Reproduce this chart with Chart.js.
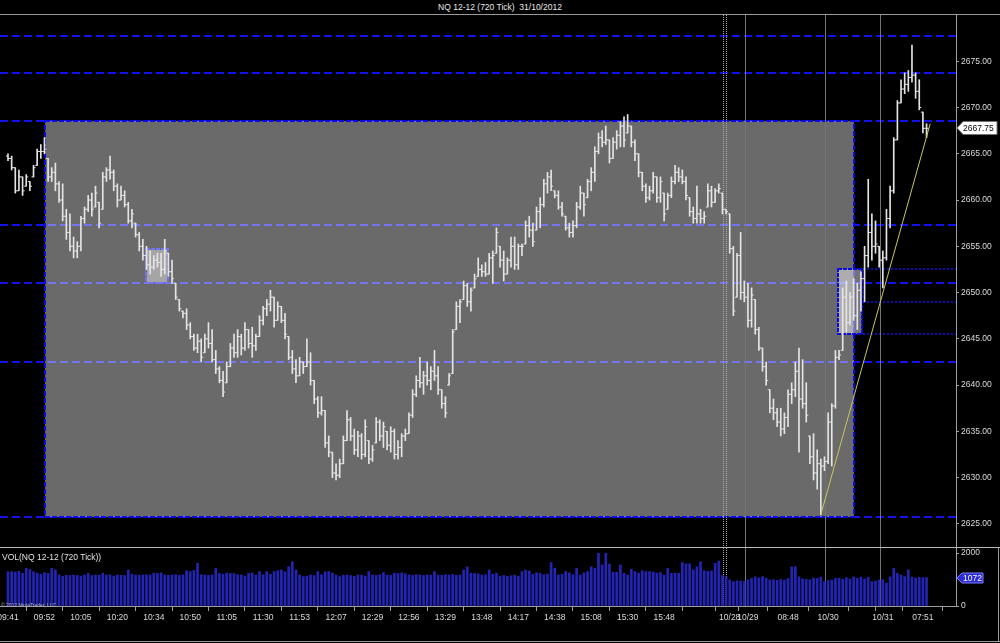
<!DOCTYPE html>
<html><head><meta charset="utf-8"><title>NQ 12-12 (720 Tick)</title>
<script src="https://cdn.jsdelivr.net/npm/chart.js@4.4.1/dist/chart.umd.min.js"></script>
<style>
html,body{margin:0;padding:0;background:#000;}
body{position:relative;width:1000px;height:643px;overflow:hidden;font-family:'Liberation Sans',Arial,sans-serif;}
#title{position:absolute;left:0;top:0;width:1000px;height:14px;line-height:14px;text-align:center;color:#e8e8e8;font-size:8.5px;white-space:pre;}
.ln{position:absolute;background:#9a9a9a;}
#pc{position:absolute;left:0;top:15px;}
#vc{position:absolute;left:0;top:548px;}
#vlab{position:absolute;left:2px;top:552px;color:#e0e0e0;font-size:8.5px;line-height:10px;}
#copy{position:absolute;left:1px;top:602px;color:#b4b4b4;font-size:5px;line-height:6px;}
</style></head><body>
<div id="title">NQ 12-12 (720 Tick)  31/10/2012</div>
<div class="ln" style="left:0;top:14px;width:1000px;height:1px"></div>
<canvas id="pc" width="1000" height="532"></canvas>
<div class="ln" style="left:0;top:547px;width:1000px;height:1px;background:#b8b8b8"></div>
<canvas id="vc" width="1000" height="93"></canvas>
<div id="vlab">VOL(NQ 12-12 (720 Tick))</div>
<div id="copy">© 2012 NinjaTrader, LLC</div>
<div class="ln" style="left:0;top:641px;width:1000px;height:1px"></div>
<div class="ln" style="left:998px;top:547px;width:1px;height:95px"></div>
<script>
// ---------------- DATA ----------------
const opens = [
2664.75,2664.5,2663.5,2661,2662.5,2661.5,2662,2662.5,2663.75,2665.25,
2665.25,2664.5,2662.5,2663,2661.75,2660,2658.25,2656.5,2655,2654.5,
2655,2658,2659,2660,2659.25,2659.75,2659,2662.5,2663.25,2663,
2661.5,2660,2660.5,2659.5,2657.75,2657.5,2656.25,2655,2654,2653,
2652.75,2653.5,2653.25,2652.5,2654.25,2652.25,2651,2649.25,2648,2647.75,
2646.5,2645.25,2644,2644.75,2643.5,2645,2644.5,2642.75,2641.75,2640.5,
2640.25,2642,2644,2643.5,2645.25,2644,2646,2644.5,2644.25,2645.25,
2647,2648.25,2648.75,2649.5,2647,2648.5,2647,2645.25,2643,2641.75,
2641,2642.5,2642,2642.5,2640.5,2638.5,2637,2637.25,2633.75,2632.75,
2630.5,2630.25,2631.5,2634,2636.25,2634.5,2633,2634.5,2632.5,2634,
2632,2633.75,2636,2634.5,2635,2633.5,2635,2632.5,2633.25,2634.5,
2634.75,2636.75,2639,2640.5,2640.25,2641,2640.5,2641.5,2641,2639.5,
2638,2640,2641.25,2646,2648.5,2649.25,2650.75,2649,2650.5,2651.75,
2652.5,2652.25,2652,2653.75,2654.25,2655,2653.5,2652,2653.5,2655,
2653,2655,2655.25,2657.25,2656.75,2656.75,2658.75,2659.5,2661.75,2662.5,
2661,2660.5,2659.25,2658.25,2657,2656.5,2657.25,2659.25,2660.75,2660.25,
2662,2663,2665.25,2666.75,2666.25,2666.5,2664.5,2666.25,2667,2668,
2667.25,2668,2666.25,2665,2663,2661.5,2660.25,2661,2662.5,2660.25,
2660.75,2659,2660.5,2662,2663,2662.5,2662,2660.25,2658.75,2658,
2658.5,2658,2659.25,2661,2659.75,2661,2660.75,2659,2658.5,2654.75,
2649.5,2654,2650,2649.5,2647,2649.25,2646,2644,2642,2639.5,
2637.5,2637,2636,2635.25,2636.5,2639,2639.5,2641.5,2638.5,2638,
2634.5,2632.25,2630.5,2631.5,2631.25,2631.75,2636,2637.75,2643,2643.75,
2649.5,2646.75,2649.5,2647.5,2650.25,2651.5,2654,2656.5,2655,2655,
2653.5,2653.75,2658,2661,2666.5,2670.5,2672,2672.5,2673.25,2673.5,
2671.75,2669.5,2667.75];
const highs = [
2665,2664.75,2663.5,2663.25,2662.5,2662.75,2662,2663.75,2665.5,2666,
2666.75,2664.5,2663.5,2664,2662,2661.75,2659,2658.5,2656,2655.5,
2658.25,2659.25,2660.5,2660.75,2661.5,2659.75,2663,2663.5,2664.75,2663.25,
2661.75,2661.5,2661,2659.75,2659,2657.5,2656.5,2655.75,2655,2654.5,
2654,2654.25,2654.25,2655.75,2654.25,2653.5,2651,2649.25,2648,2648.25,
2646.75,2645.5,2645.5,2645,2645.5,2646.75,2646,2643.75,2642,2641.5,
2642.5,2644.5,2645.5,2646,2645.5,2646.75,2646,2646.25,2645.5,2647.5,
2648.5,2649.25,2650.25,2649.5,2649,2648.5,2647.75,2645.25,2643.75,2642.75,
2643,2642.5,2645,2643.5,2640.5,2638.75,2638.75,2637.25,2634.5,2632.75,
2631.5,2632,2634.5,2637.25,2636.5,2635.25,2635,2634.75,2636.25,2634,
2633.5,2636.5,2636.25,2636,2635,2635.5,2635.25,2634,2634.75,2635.25,
2637,2639.5,2641,2643,2641.5,2642.5,2642,2643.75,2642,2639.5,
2638.75,2641.25,2646,2649,2649.25,2651.25,2651,2650.5,2652,2653.75,
2653,2653.25,2654.25,2654.5,2657,2655,2654.5,2653.75,2656,2656,
2655.25,2655.25,2657.75,2658.25,2657.5,2659.25,2660.25,2662.25,2663,2663.25,
2661,2661,2659.75,2658.25,2657.5,2657.75,2659.75,2661.5,2660.75,2662.25,
2663.5,2665.75,2667.25,2667.5,2668,2666.5,2666.75,2667.5,2668.5,2669,
2669.25,2668,2666.5,2665,2663,2661.75,2661.5,2663,2662.5,2662.5,
2660.75,2660.75,2662.5,2663.75,2663.5,2663.25,2662.5,2660.25,2659.25,2661.5,
2659,2658.75,2661.75,2661.5,2661.25,2661.75,2660.75,2659,2658.5,2655,
2654.25,2656.5,2651.25,2651,2650.5,2649.25,2646.25,2644,2642.5,2639.5,
2638.5,2637.5,2637.5,2637,2639.5,2640.25,2642.5,2644,2642.75,2640.25,
2634.5,2634.75,2633,2632,2632.25,2637,2638,2643.75,2643.75,2650.5,
2651.25,2650,2651.5,2651,2652.25,2655,2662.25,2658.5,2657.75,2655,
2654.5,2659,2661.5,2666.75,2670.75,2673,2673.75,2674,2676.75,2673.75,
2673,2669.5,2668.25];
const lows = [
2664.25,2663.25,2660.75,2661,2660.5,2661.5,2661,2662.5,2663.75,2664.5,
2665,2662,2662,2661,2659.75,2657.75,2655.75,2654.5,2653.75,2653.75,
2654.5,2657.5,2658.75,2658.25,2659.25,2657,2659,2662,2662.25,2661,
2659.25,2660,2659.25,2657.5,2657,2656,2654.5,2653.5,2652.5,2652,
2652.5,2652.75,2651.75,2652,2651.75,2651,2649.25,2648,2647.25,2646,
2645,2643.75,2643.5,2642.5,2643.5,2644,2642.5,2641.25,2640.25,2638.75,
2640.25,2642,2643,2643,2643.25,2643.75,2644,2643,2643.75,2645.25,
2646.5,2647.5,2648,2646.25,2647,2646.75,2645,2642.75,2641.25,2640.25,
2641,2641.25,2642,2640,2638,2636.5,2636.75,2633.25,2632.25,2630,
2629.75,2630,2631.5,2634,2634,2632.5,2632.25,2632,2632.25,2631.5,
2631.75,2633.75,2634,2633.25,2633,2632.75,2632,2632,2632.25,2634,
2634.75,2636.5,2638.75,2639.75,2639,2640,2639.5,2640.5,2639,2637.5,
2636.5,2640,2641.25,2646,2646.75,2649.25,2648.5,2648,2650.5,2651.75,
2651.75,2651.75,2652,2651,2654.25,2652.75,2651.25,2652,2652.75,2652.5,
2652.5,2654,2655.25,2656,2655,2656.75,2657,2659.25,2660.75,2661,
2660.25,2659,2658.25,2656.75,2656,2656,2657,2659,2658.25,2660.25,
2661,2662,2665,2665.75,2666,2664,2664.5,2665.5,2665.75,2665.75,
2667.25,2665.75,2664.25,2662.5,2661,2659.75,2660,2660.75,2659.75,2659.75,
2657.75,2659,2660.25,2661.75,2662,2661.75,2660,2658.25,2657.5,2657.5,
2657.5,2657.5,2659.25,2659.25,2659.75,2660.75,2658.5,2658.5,2654.25,2647.5,
2649.5,2649.25,2649,2646.25,2646.25,2645.5,2643.75,2641.5,2640,2637,
2636.25,2635.5,2634.5,2634.75,2635.5,2638,2638.75,2632.75,2637.5,2636,
2631.5,2629.75,2628.75,2626,2630.75,2631.5,2631.25,2637.5,2642.75,2643.75,
2645.75,2646.5,2647,2646,2648,2649,2652.75,2653.5,2654.25,2652.75,
2650.5,2653.5,2657,2660.75,2666.5,2670.5,2671.5,2671.75,2672.75,2671,
2669.75,2667.25,2666.75];
const closes = [
2664.5,2663.5,2661,2662.5,2661,2662.5,2661.5,2663.5,2665.25,2665.25,
2665.5,2662.5,2663,2661.75,2660,2658.25,2656.5,2655,2654.5,2655,
2658,2659,2660,2659,2660.75,2657.5,2662.5,2663.25,2663,2661.5,
2660,2660.5,2659.5,2657.75,2658.5,2656.25,2655,2654,2653,2652.75,
2653.5,2653.25,2652.5,2654.5,2652.25,2651.5,2649.5,2648.25,2647.75,2646.5,
2645.25,2644,2644.75,2643,2645,2644.5,2642.75,2641.75,2640.5,2639.25,
2642,2644,2643.5,2645.25,2644,2646,2644.5,2644.25,2645.25,2647,
2648.25,2648.75,2649.5,2647,2648.5,2647,2645.5,2643,2641.75,2641,
2642.5,2642,2642.5,2640.5,2638.5,2637,2637.25,2633.75,2632.75,2630.5,
2630.25,2631.5,2634,2636.25,2634.5,2633,2634.5,2632.5,2635.5,2632,
2633,2636,2634.5,2635.5,2633.5,2635,2632.5,2633.25,2634.5,2634.75,
2636.75,2639,2640.5,2640.25,2641,2640.5,2641.5,2641,2639.5,2638,
2637,2641,2645.75,2648.5,2649,2650.75,2649,2650.25,2651.5,2652.5,
2652.25,2652,2653.75,2654,2656.5,2653.5,2652,2653.5,2655,2653,
2655,2655,2657.25,2656.75,2655.5,2658.75,2659.5,2661.75,2662.5,2661.5,
2660.5,2659.25,2658.5,2657,2656.5,2657.25,2659.25,2660.75,2659.5,2662,
2663,2665.25,2666.75,2666.25,2666.5,2664.5,2666.25,2667,2668,2666.5,
2668,2666.25,2665,2663,2661.5,2660.25,2661,2662.5,2660.25,2662,
2658.5,2660.5,2662,2663,2662.5,2662,2660.5,2658.75,2658,2658.5,
2658,2658.25,2661,2659.75,2661,2661.25,2659,2658.75,2654.75,2648,
2654,2650,2649.5,2647,2649.75,2646,2644,2642,2640.5,2637.5,
2637,2636,2635.25,2636.5,2639,2639.5,2641.5,2638.5,2638,2636.75,
2632.25,2630.5,2631.5,2631.25,2631.75,2636,2637.75,2643,2643.25,2649.5,
2646.75,2649.5,2647.5,2650.25,2651.5,2654,2656.5,2655,2655.25,2653.5,
2653.75,2658,2661,2666.5,2670.5,2672,2672.5,2673.25,2673.5,2671.75,
2670,2667.75,2667.75];
const volumes = [
1290,1300,1280,1310,1230,1420,1380,1290,1240,1200,
1260,1230,1420,1360,1170,1120,1160,1150,1170,1160,
1130,1170,1230,1150,1170,1160,1240,1170,1180,1130,
1170,1160,1150,1360,1200,1170,1160,1170,1180,1170,
1240,1230,1250,1170,1160,1170,1180,1160,1170,1330,
1300,1340,1610,1180,1170,1160,1170,1420,1230,1200,
1240,1230,1220,1180,1170,1130,1230,1240,1170,1300,
1180,1300,1200,1300,1330,1360,1290,1480,1670,1360,
1170,1110,1130,1170,1150,1300,1180,1290,1300,1240,
1170,1110,1160,1170,1150,1120,1170,1160,1130,1300,
1170,1160,1180,1260,1170,1160,1240,1230,1250,1220,
1170,1160,1180,1170,1150,1170,1160,1300,1170,1160,
1180,1170,1190,1160,1170,1360,1480,1240,1230,1210,
1170,1180,1360,1200,1240,1130,1150,1120,1140,1160,
1130,1300,1350,1320,1200,1250,1230,1180,1200,1640,
1420,1170,1200,1300,1250,1180,1420,1170,1250,1300,
1480,1420,1990,1550,1990,1580,1270,1270,1550,1230,
1170,1390,1300,1240,1330,1300,1300,1280,1240,1260,
1170,1420,1230,1240,1230,1640,1590,1590,1360,1480,
1670,1330,1310,1320,1610,1700,1150,1100,980,920,
950,940,930,980,1040,1100,1060,1110,1050,980,
990,970,1000,980,1040,1480,1480,1100,1020,1000,
990,1050,1040,1090,920,960,980,1040,1050,1010,
1070,1020,1100,1040,1090,1020,1080,920,940,980,
990,860,1100,1420,1230,1170,1110,1360,1090,1060,
1080,1070,1072];
// x-axis tick labels (bar index -> text)
const tickIdx  = [0,10,20,30,40,50,60,70,80,90,100,110,120,130,140,150,160,170,180,190,198,203,214,225,236,240,251];
const tickText = ['09:41','09:52','10:05','10:20','10:34','10:50','11:05','11:30','11:53','12:07','12:29','12:56','13:29','13:48','14:17','14:38','15:08','15:30','15:48','','10/28','10/29','08:48','10/30','','10/31','07:51'];
const priceTicks = [2625,2630,2635,2640,2645,2650,2655,2660,2665,2670,2675];
const volTicks = [0,2000];
// drawing-tool levels (prices) and zones (bar index / price anchors)
const levelPrices = [2677.75,2673.75,2668.5,2657.25,2651,2642.5,2625.75];
const extLevels = [2652.5,2649,2645.5];
const sessionBreaks = [196.1,197,202.2,224.1,239.2];
const dottedBreaks = [true,true,false,false,false];
const bigZone = {from:10.15, to:232.1, lo:2625.75, hi:2668.5};
const zoneA = {from:37.9, to:43.9, lo:2651, hi:2654.75};
const zoneB = {from:227.7, to:234.3, lo:2645.5, hi:2652.5};
const trend = {i0:223, p0:2626, i1:253, p1:2668.25};

// ---------------- VIEW ----------------
const X_MIN = -2.195, X_MAX = 260.08;
const N = closes.length;
const idx = closes.map((_, i) => i);
const BAR = '#e4e4e4';
const BLUE = '#1212ee';
Chart.defaults.font.family = "'Liberation Sans', Arial, sans-serif";
Chart.defaults.font.size = 8.5;
Chart.defaults.color = '#d8d8d8';
Chart.defaults.animation = false;

function xScale(show) {
  return {
    type: 'linear', min: X_MIN, max: X_MAX, offset: false, display: show,
    grid: {drawOnChartArea: false, drawTicks: true, tickLength: 5, color: '#a0a0a0'},
    border: {color: '#a0a0a0'},
    ticks: {autoSkip: false, maxRotation: 0, minRotation: 0, padding: 2, color: '#dcdcdc',
            callback: (v, i) => tickText[i] ?? ''},
    afterBuildTicks: s => { s.ticks = tickIdx.map(v => ({value: v})); },
    afterFit: s => { s.paddingLeft = 0; s.paddingRight = 0; if (show) s.height = 35; }
  };
}
function drawBreaks(chart) {
  const {ctx, chartArea: a, scales: {x}} = chart;
  ctx.save();
  ctx.lineWidth = 1;
  sessionBreaks.forEach((b, k) => {
    const px = Math.round(x.getPixelForValue(b)) + 0.5;
    ctx.strokeStyle = dottedBreaks[k] ? '#a8a8a8' : '#747474';
    ctx.setLineDash(dottedBreaks[k] ? [1, 1] : []);
    ctx.beginPath(); ctx.moveTo(px, a.top); ctx.lineTo(px, a.bottom); ctx.stroke();
  });
  ctx.restore();
}

const priceAnno = {
  id: 'priceAnno',
  beforeDatasetsDraw(chart) {
    const {ctx, chartArea: a, scales: {x, y}} = chart;
    const X = v => x.getPixelForValue(v), Y = v => y.getPixelForValue(v);
    const box = z => [Math.round(X(z.from)), Math.round(Y(z.hi)), Math.round(X(z.to)) - Math.round(X(z.from)), Math.round(Y(z.lo)) - Math.round(Y(z.hi))];
    ctx.save();
    ctx.beginPath(); ctx.rect(a.left, a.top, a.right - a.left, a.bottom - a.top); ctx.clip();
    ctx.strokeStyle = BLUE; ctx.lineWidth = 2; ctx.setLineDash([8, 4]);
    levelPrices.forEach(p => { const yy = Math.round(Y(p)); ctx.beginPath(); ctx.moveTo(a.left, yy); ctx.lineTo(a.right, yy); ctx.stroke(); });
    let [bx, by, bw, bh] = box(zoneA);
    ctx.setLineDash([4, 1]); ctx.lineWidth = 2; ctx.strokeRect(bx, by, bw, bh);
    [bx, by, bw, bh] = box(bigZone);
    ctx.setLineDash([]); ctx.fillStyle = 'rgba(255,255,255,0.415)'; ctx.fillRect(bx, by, bw, bh);
    ctx.setLineDash([5, 2]); ctx.lineWidth = 2; ctx.strokeStyle = '#0a0ae0'; ctx.strokeRect(bx, by, bw, bh);
    [bx, by, bw, bh] = box(zoneA);
    ctx.setLineDash([]); ctx.fillStyle = 'rgba(255,255,255,0.4)'; ctx.fillRect(bx + 1, by + 1, bw - 2, bh - 2);
    [bx, by, bw, bh] = box(zoneB);
    ctx.fillStyle = 'rgba(255,255,255,0.45)'; ctx.fillRect(bx, by, bw, bh);
    ctx.setLineDash([4, 1]); ctx.strokeStyle = '#0a0ae0'; ctx.strokeRect(bx, by, bw, bh);
    ctx.setLineDash([2, 2]); ctx.lineWidth = 1.5; ctx.strokeStyle = BLUE;
    extLevels.forEach(p => { const yy = Math.round(Y(p)); ctx.beginPath(); ctx.moveTo(X(zoneB.to) + 1, yy); ctx.lineTo(a.right, yy); ctx.stroke(); });
    ctx.restore();
    drawBreaks(chart);
  },
  afterDatasetsDraw(chart) {
    const {ctx, chartArea: a, scales: {x, y}} = chart;
    ctx.save();
    ctx.beginPath(); ctx.rect(a.left, a.top, a.right - a.left, a.bottom - a.top); ctx.clip();
    ctx.strokeStyle = '#c8c85a'; ctx.lineWidth = 1;
    ctx.beginPath();
    ctx.moveTo(x.getPixelForValue(trend.i0), y.getPixelForValue(trend.p0));
    ctx.lineTo(x.getPixelForValue(trend.i1), y.getPixelForValue(trend.p1));
    ctx.stroke();
    ctx.restore();
  },
  afterDraw(chart) {
    const {ctx, chartArea: a, scales: {y}} = chart;
    const last = closes[N - 1];
    const yy = Math.round(y.getPixelForValue(last));
    const x0 = a.right + 1;
    ctx.save();
    ctx.fillStyle = '#ffffff'; ctx.strokeStyle = '#707070'; ctx.lineWidth = 1;
    ctx.beginPath();
    ctx.moveTo(x0, yy); ctx.lineTo(x0 + 6, yy - 6.5); ctx.lineTo(x0 + 40, yy - 6.5);
    ctx.lineTo(x0 + 40, yy + 6.5); ctx.lineTo(x0 + 6, yy + 6.5); ctx.closePath();
    ctx.fill(); ctx.stroke();
    ctx.fillStyle = '#000'; ctx.font = "8.5px 'Liberation Sans', Arial, sans-serif";
    ctx.textBaseline = 'middle'; ctx.textAlign = 'left';
    ctx.fillText(last.toFixed(2), x0 + 6, yy + 0.5);
    ctx.restore();
  }
};

new Chart(document.getElementById('pc'), {
  type: 'bar',
  data: {
    datasets: [
      {type: 'line', data: idx.map(i => ({x: i, y: opens[i]})), showLine: false, pointStyle: 'dash',
       pointRotation: 180, pointRadius: 2, pointBorderColor: BAR, pointBackgroundColor: BAR, pointBorderWidth: 1},
      {type: 'line', data: idx.map(i => ({x: i, y: closes[i]})), showLine: false, pointStyle: 'dash',
       pointRotation: 0, pointRadius: 2, pointBorderColor: BAR, pointBackgroundColor: BAR, pointBorderWidth: 1},
      {type: 'bar', data: idx.map(i => ({x: i, y: [lows[i], highs[i]]})), backgroundColor: BAR,
       barThickness: 1, borderWidth: 0}
    ]
  },
  options: {
    responsive: false, animation: false, events: [],
    layout: {padding: 0, autoPadding: false},
    plugins: {legend: {display: false}, tooltip: {enabled: false}},
    scales: {
      x: xScale(false),
      y: {
        position: 'right', min: 2622.5, max: 2680,
        afterBuildTicks: s => { s.ticks = priceTicks.map(v => ({value: v})); },
        afterFit: s => { s.width = 44; s.paddingTop = 0; s.paddingBottom = 0; },
        grid: {drawOnChartArea: false, tickLength: 3, color: '#a0a0a0'},
        border: {color: '#a0a0a0'},
        ticks: {padding: 2, color: '#dcdcdc', callback: v => Number(v).toFixed(2)}
      }
    }
  },
  plugins: [priceAnno]
});

const volAnno = {
  id: 'volAnno',
  beforeDatasetsDraw(chart) { drawBreaks(chart); },
  afterDraw(chart) {
    const {ctx, chartArea: a, scales: {y}} = chart;
    const last = volumes[N - 1];
    const yy = Math.round(y.getPixelForValue(last));
    const x0 = a.right + 1;
    ctx.save();
    ctx.fillStyle = '#2a2ad8'; ctx.strokeStyle = '#8080ff'; ctx.lineWidth = 1;
    ctx.beginPath();
    ctx.moveTo(x0, yy); ctx.lineTo(x0 + 5, yy - 5); ctx.lineTo(x0 + 26, yy - 5);
    ctx.lineTo(x0 + 26, yy + 5); ctx.lineTo(x0 + 5, yy + 5); ctx.closePath();
    ctx.fill(); ctx.stroke();
    ctx.fillStyle = '#ffffff'; ctx.font = "8.5px 'Liberation Sans', Arial, sans-serif";
    ctx.textBaseline = 'middle'; ctx.textAlign = 'left';
    ctx.fillText(String(last), x0 + 6, yy + 0.5);
    ctx.restore();
  }
};

new Chart(document.getElementById('vc'), {
  type: 'bar',
  data: {
    datasets: [
      {data: idx.map(i => ({x: i, y: volumes[i]})), backgroundColor: '#2424b4', barThickness: 2, borderWidth: 0}
    ]
  },
  options: {
    responsive: false, animation: false, events: [],
    layout: {padding: 0, autoPadding: false},
    plugins: {legend: {display: false}, tooltip: {enabled: false}},
    scales: {
      x: xScale(true),
      y: {
        position: 'right', min: 0, max: 2188.7,
        afterBuildTicks: s => { s.ticks = volTicks.map(v => ({value: v})); },
        afterFit: s => { s.width = 44; s.paddingTop = 0; s.paddingBottom = 0; },
        grid: {drawOnChartArea: false, tickLength: 3, color: '#a0a0a0'},
        border: {color: '#a0a0a0'},
        ticks: {padding: 2, color: '#dcdcdc', callback: v => String(v)}
      }
    }
  },
  plugins: [volAnno]
});
</script>
</body></html>
